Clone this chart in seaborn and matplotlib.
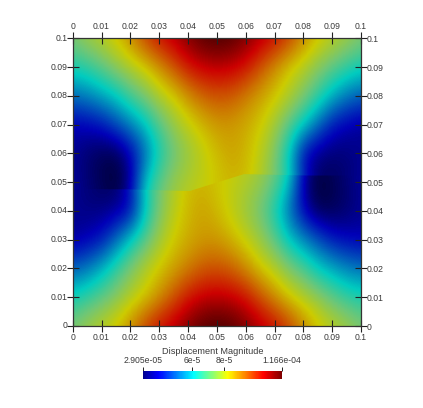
import numpy as np
import pandas as pd
import seaborn as sns
import matplotlib
matplotlib.use("Agg")
import matplotlib.pyplot as plt
from matplotlib.colors import LinearSegmentedColormap
from matplotlib.patches import Polygon

sns.set_theme(style="white")
plt.rcParams['font.family'] = ['Liberation Sans', 'DejaVu Sans']

x_coords = [round(i * 0.005, 3) for i in range(21)]
y_top = [0.1, 0.09, 0.08, 0.07, 0.06, 0.05, 0.04]
y_bottom = [0.06, 0.05, 0.04, 0.03, 0.02, 0.01, 0.0]

# displacement magnitude, in units of 1e-5
upper_field = [
 [7.3,7.7,8.0,8.4,9.0,9.8,10.4,10.8,11.2,11.55,11.66,11.55,11.2,10.8,10.4,9.8,9.0,8.4,8.0,7.7,7.3],
 [6.4,6.6,7.0,7.5,7.9,8.3,8.9,9.6,10.3,10.6,10.7,10.6,10.3,9.6,8.9,8.3,7.9,7.4,7.0,6.6,6.3],
 [5.1,5.3,5.7,6.1,6.8,7.3,7.9,8.3,8.9,9.4,9.6,9.5,9.1,8.7,8.35,7.9,7.3,6.6,5.8,5.2,4.9],
 [3.8,3.9,4.1,4.7,5.3,6.0,6.9,7.6,8.1,8.5,8.8,8.8,8.6,8.3,7.7,6.9,6.1,5.0,4.1,3.8,3.6],
 [3.6,3.35,3.15,3.1,3.8,5.0,6.3,7.1,7.6,8.05,8.45,8.7,8.5,8.0,7.3,6.0,3.9,3.5,3.4,3.45,3.6],
 [3.65,3.4,3.15,2.95,3.6,6.0,7.0,7.6,7.9,8.1,8.3,8.5,8.4,7.9,7.2,6.2,4.2,3.2,3.2,3.4,3.65],
 [3.7,3.5,3.3,3.2,4.0,6.3,7.2,7.8,8.1,8.3,8.4,8.5,8.3,7.8,7.2,6.3,4.5,3.7,3.6,3.6,3.7],
]
lower_field = [
 [3.7,3.6,3.6,3.7,4.5,6.3,7.2,7.8,8.3,8.5,8.4,8.3,8.1,7.8,7.2,6.3,4.0,3.2,3.3,3.5,3.7],
 [3.6,3.4,3.2,3.2,4.2,6.2,7.2,7.9,8.4,8.5,8.3,8.1,7.9,7.6,7.0,6.0,3.6,2.95,3.15,3.4,3.65],
 [3.6,3.5,3.5,3.6,3.9,6.0,7.3,8.0,8.5,8.7,8.45,8.05,7.6,7.1,6.3,5.0,3.8,3.1,3.15,3.35,3.6],
 [3.6,3.8,4.1,5.0,6.1,6.9,7.7,8.3,8.6,8.8,8.8,8.5,8.1,7.6,6.9,6.0,5.3,4.7,4.1,3.9,3.8],
 [4.9,5.2,5.8,6.6,7.3,7.9,8.35,8.7,9.1,9.5,9.6,9.4,8.9,8.3,7.9,7.3,6.8,6.1,5.7,5.3,5.1],
 [6.3,6.6,7.0,7.4,7.9,8.3,8.9,9.6,10.3,10.6,10.7,10.6,10.3,9.6,8.9,8.3,7.9,7.5,7.0,6.6,6.4],
 [7.3,7.7,8.0,8.4,9.0,9.8,10.4,10.8,11.2,11.55,11.66,11.55,11.2,10.8,10.4,9.8,9.0,8.4,8.0,7.7,7.3],
]

crack_x = [0.0, 0.019, 0.0406, 0.0594, 0.0815, 0.1]
crack_y = [0.0476, 0.0475, 0.0469, 0.0528, 0.0523, 0.0523]

x_ticks = [0, 0.01, 0.02, 0.03, 0.04, 0.05, 0.06, 0.07, 0.08, 0.09, 0.1]
tick_text = ['0', '0.01', '0.02', '0.03', '0.04', '0.05', '0.06', '0.07', '0.08', '0.09', '0.1']
bar_ticks = [2.905, 6.0, 8.0, 11.66]
bar_text = ['2.905e-05', '6e-5', '8e-5', '1.166e-04']
bar_title = 'Displacement Magnitude'
value_min, value_max = 2.905, 11.66

stops = [0, 0.111, 0.365, 0.49, 0.61, 0.87, 1]
bright_colors = [(0, 0, 0.5625), (0, 0, 1), (0, 1, 1), (0.5, 1, 0.5), (1, 1, 0), (1, 0, 0), (0.5, 0, 0)]
shaded_colors = [(0, 0, 0.2), (0, 0, 0.72), (0, 0.8, 0.75), (0.45, 0.78, 0.45), (0.8, 0.8, 0), (0.8, 0, 0), (0.28, 0, 0)]
bright = LinearSegmentedColormap.from_list('bright_jet', list(zip(stops, bright_colors)), N=256)
shaded = LinearSegmentedColormap.from_list('shaded_jet', list(zip(stops, shaded_colors)), N=256)

W, H = 423, 408
fig = plt.figure(figsize=(W / 100, H / 100), dpi=100, facecolor='white')
L, R, T, B = 72.7, 361, 38.3, 326
ax = fig.add_axes([L / W, 1 - B / H, (R - L) / W, (B - T) / H])
cax = fig.add_axes([143 / W, 1 - 379 / H, 139 / W, 8.3 / H])

frame = pd.DataFrame(upper_field[:5] + lower_field[1:], columns=x_coords,
                     index=y_top[:5] + y_bottom[1:])
sns.heatmap(frame, ax=ax, cmap=bright, vmin=value_min, vmax=value_max,
            cbar_ax=cax, cbar_kws={'orientation': 'horizontal'})
ax.collections[0].remove()

half = 0.0025
below = Polygon(list(zip(crack_x, crack_y)) + [(0.1, 0), (0, 0)], closed=True, transform=ax.transData)
# the upper field lies unclipped underneath, so no light seam shows along the crack
for field, ys, clip in [(upper_field, y_top, None), (lower_field, y_bottom, below)]:
    if clip is None:
        field = upper_field + [upper_field[-1]] * 4
        y_span = (-0.005, 0.105)
    else:
        y_span = (ys[-1] - 0.005, ys[0] + 0.005)
    im = ax.imshow(np.array(field), cmap=shaded, vmin=value_min, vmax=value_max,
                   origin='upper', aspect='auto', interpolation='bicubic',
                   extent=[x_coords[0] - half, x_coords[-1] + half, y_span[0], y_span[1]])
    if clip is not None:
        im.set_clip_path(clip)

ax.set_xlim(0, 0.1)
ax.set_ylim(0, 0.1)
ax.set_xlabel('')
ax.set_ylabel('')
ax.set_xticks(x_ticks, tick_text, rotation=0)
ax.set_yticks(x_ticks, tick_text, rotation=0)
ink = '#3a3a3a'
ax.tick_params(axis='x', which='both', direction='inout', length=8, width=0.8, color='#222222',
               top=True, bottom=True, labeltop=True, labelbottom=True, labelsize=6.2, labelcolor=ink, pad=1.2)
ax.tick_params(axis='y', which='both', direction='inout', length=8, width=0.8, color='#222222',
               left=True, right=True, labelleft=True, labelright=True, labelsize=6.2, labelcolor=ink, pad=0)
for s in ax.spines.values():
    s.set_visible(True)
    s.set_color('#333333')
    s.set_linewidth(0.9)

cax.set_xticks(bar_ticks, bar_text, rotation=0)
cax.xaxis.set_ticks_position('top')
cax.xaxis.set_label_position('top')
cax.tick_params(axis='x', direction='out', length=3, width=0.7, color='#222222',
                labelsize=6.2, labelcolor=ink, pad=0.8)
cax.set_title(bar_title, fontsize=6.6, color=ink, pad=12)
for s in cax.spines.values():
    s.set_visible(False)

fig.savefig('out.png', dpi=100, facecolor='white')
